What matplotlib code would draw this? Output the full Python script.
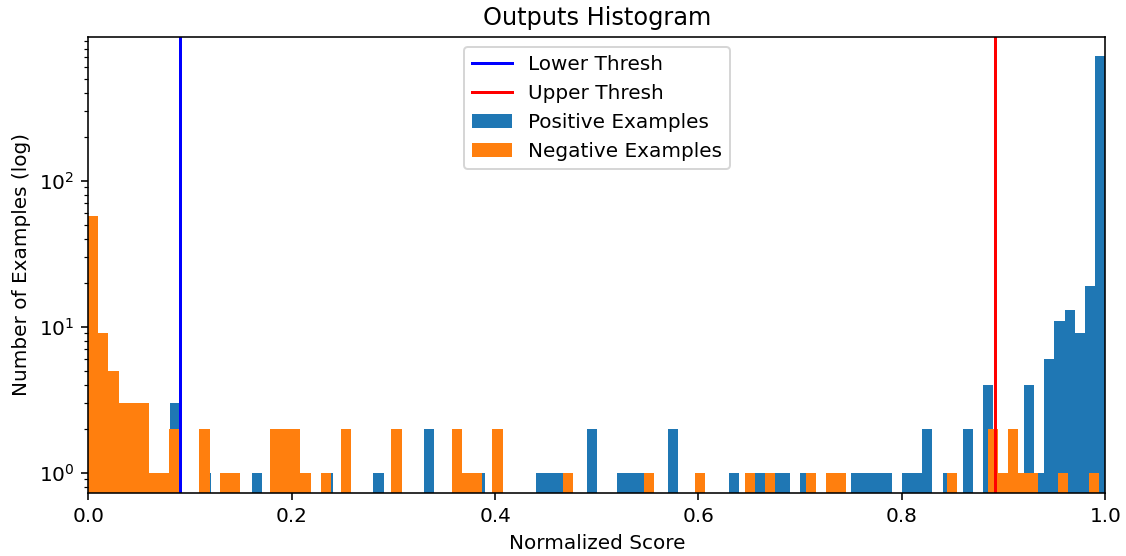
import numpy as np
import matplotlib
matplotlib.use("Agg")
import matplotlib.pyplot as plt

# ── Data ──────────────────────────────────────────────────────────────────────
# each series was binned over its own score range (100 bins each)
POS_RANGE = (0.0006, 1.0)
NEG_RANGE = (0.0, 0.9935)

# bin index -> count (bins not listed are empty)
POS_BINS = [8, 11, 16, 23, 28, 33, 38, 44, 45, 46, 49, 52, 53, 54, 57, 63, 65,
            66, 67, 68, 70, 75, 76, 77, 78, 80, 81, 82, 84, 86, 88, 92, 93, 94,
            95, 96, 97, 98, 99]
POS_COUNTS = [3, 1, 1, 1, 1, 2, 1, 1, 1, 1, 2, 1, 1, 1, 2, 1, 1,
              1, 1, 1, 1, 1, 1, 1, 1, 1, 1, 2, 1, 2, 4, 4, 1, 6,
              11, 13, 9, 19, 710]

NEG_BINS = [0, 1, 2, 3, 4, 5, 6, 7, 8, 11, 13, 14, 18, 19, 20, 21, 23, 25, 30,
            36, 37, 38, 40, 47, 55, 60, 65, 67, 71, 73, 74, 85, 89, 90, 91, 92,
            93, 96, 99]
NEG_COUNTS = [57, 9, 5, 3, 3, 3, 1, 1, 2, 2, 1, 1, 2, 2, 2, 1, 1, 2, 2,
              2, 1, 1, 2, 1, 1, 1, 1, 1, 1, 1, 1, 1, 2, 1, 2, 1,
              1, 1, 1]

LOWER_THRESH = 0.0902
UPPER_THRESH = 0.8916

N_BINS = 100


def hist_arrays(rng, bins, counts):
    edges = np.linspace(rng[0], rng[1], N_BINS + 1)
    weights = np.zeros(N_BINS)
    weights[bins] = counts
    return edges, weights


# ── Plot ──────────────────────────────────────────────────────────────────────
fig, ax = plt.subplots(figsize=(1126 / 144, 556 / 144), dpi=144)
fig.subplots_adjust(left=0.0784, right=0.9816, top=0.934, bottom=0.1133)

pos_edges, pos_w = hist_arrays(POS_RANGE, POS_BINS, POS_COUNTS)
neg_edges, neg_w = hist_arrays(NEG_RANGE, NEG_BINS, NEG_COUNTS)

ax.hist(pos_edges[:-1], bins=pos_edges, weights=pos_w, log=True,
        color="C0", label="Positive Examples")
ax.hist(neg_edges[:-1], bins=neg_edges, weights=neg_w, log=True,
        color="C1", label="Negative Examples")

ax.axvline(LOWER_THRESH, color="b", label="Lower Thresh")
ax.axvline(UPPER_THRESH, color="r", label="Upper Thresh")

ax.set_xlim(0, 1)
ax.set_ylim(0.726, 968)
ax.set_title("Outputs Histogram")
ax.set_xlabel("Normalized Score")
ax.set_ylabel("Number of Examples (log)")

handles, labels = ax.get_legend_handles_labels()
order = [labels.index(l) for l in
         ["Lower Thresh", "Upper Thresh", "Positive Examples", "Negative Examples"]]
ax.legend([handles[i] for i in order], [labels[i] for i in order],
          loc="upper center")

fig.savefig("out.png", dpi=144)
